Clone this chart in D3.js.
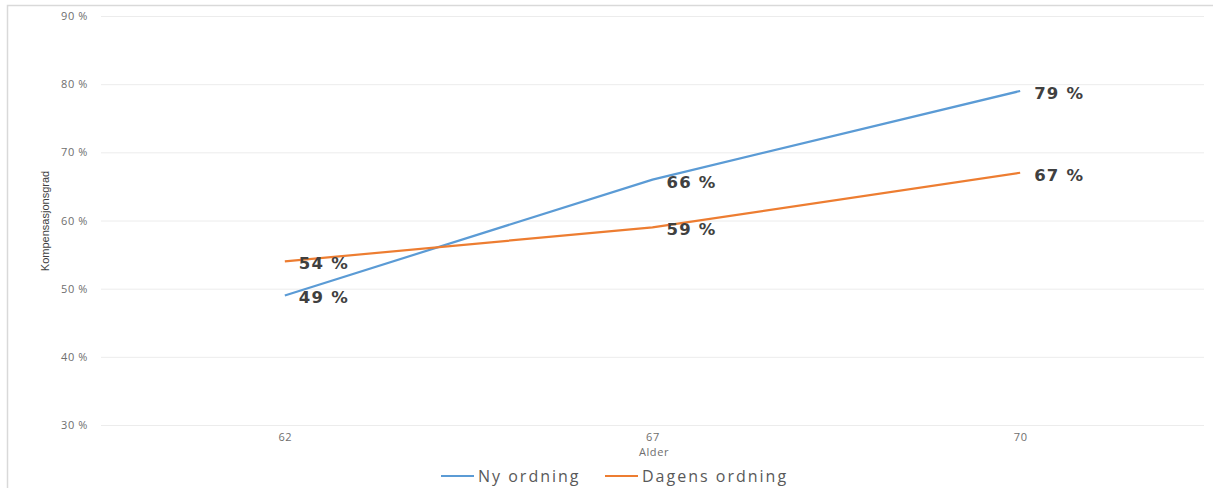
<!DOCTYPE html>
<html><head><meta charset="utf-8">
<script src="https://cdn.jsdelivr.net/npm/d3@7"></script>
<style>body{margin:0;background:#fff}</style>
</head><body>
<svg id="c" width="1213" height="488"></svg>
<script>
const categories = ["62", "67", "70"];
const nyOrdning = [49, 66, 79];
const dagensOrdning = [54, 59, 67];
const yTicks = [30, 40, 50, 60, 70, 80, 90];
const seriesNames = ["Ny ordning", "Dagens ordning"];
const colors = ["#5b9bd5", "#ed7d31"];

const svg = d3.select("#c");
svg.append("rect").attr("x", 7.5).attr("y", 5.5).attr("width", 1220).attr("height", 500)
  .attr("fill", "#fff").attr("stroke", "#d9d9d9").attr("stroke-width", 1.5);

const x = d3.scalePoint().domain(categories).range([101, 1204]).padding(0.5);
const y = d3.scaleLinear().domain([30, 90]).range([425, 16]);

// gridlines
const yAxis = d3.axisLeft(y).tickValues(yTicks).tickSize(-(1204 - 101)).tickFormat(d => d + " %");
const gy = svg.append("g").attr("transform", "translate(101,0)").call(yAxis);
gy.select(".domain").remove();
gy.selectAll(".tick line").attr("stroke", "#ececec").attr("stroke-width", 1);
gy.selectAll(".tick text").attr("x", -13).attr("fill", "#6e6e6e")
  .style("font-family", "Open Sans").style("font-size", "11px").style("letter-spacing", "0.6px").attr("dy", "0.32em");

const xAxis = d3.axisBottom(x).tickSize(0).tickPadding(8);
const gx = svg.append("g").attr("transform", "translate(0,425)").call(xAxis);
gx.select(".domain").remove();
gx.selectAll(".tick text").attr("fill", "#6e6e6e").style("font-family", "Open Sans").style("font-size", "11px")
  .style("letter-spacing", "0.6px");

svg.append("text").attr("x", 654).attr("y", 456).attr("text-anchor", "middle")
  .attr("fill", "#6e6e6e").style("font-family", "Open Sans").style("font-size", "11px")
  .style("letter-spacing", "0.6px").text("Alder");

svg.append("text").attr("transform", "translate(49,221) rotate(-90)").attr("text-anchor", "middle")
  .attr("fill", "#404040").style("font-family", "Liberation Sans Narrow, Liberation Sans").style("font-size", "11px")
  .text("Kompensasjonsgrad");

const series = [nyOrdning, dagensOrdning];
const line = d3.line().x((d, i) => x(categories[i])).y(d => y(d));
series.forEach((s, k) => {
  svg.append("path").datum(s).attr("d", line).attr("fill", "none")
    .attr("stroke", colors[k]).attr("stroke-width", 2.2);
});
series.forEach((s, k) => {
  svg.append("g").selectAll("text").data(s).join("text")
    .attr("x", (d, i) => x(categories[i]) + 14)
    .attr("y", d => y(d) + 2)
    .attr("dy", "0.36em")
    .attr("fill", "#404040")
    .style("font-family", "DejaVu Sans").style("font-weight", "bold").style("font-size", "16.5px")
    .style("letter-spacing", "1.2px")
    .text(d => d + " %");
});

// legend
const legX = [441, 605];
seriesNames.forEach((n, k) => {
  svg.append("line").attr("x1", legX[k]).attr("x2", legX[k] + 33).attr("y1", 476).attr("y2", 476)
    .attr("stroke", colors[k]).attr("stroke-width", 2.2);
  svg.append("text").attr("x", legX[k] + 37).attr("y", 476).attr("dy", "0.35em")
    .attr("fill", "#595959").style("font-family", "Open Sans").style("font-size", "16px")
    .style("letter-spacing", "2px").text(n);
});
</script>
</body></html>
